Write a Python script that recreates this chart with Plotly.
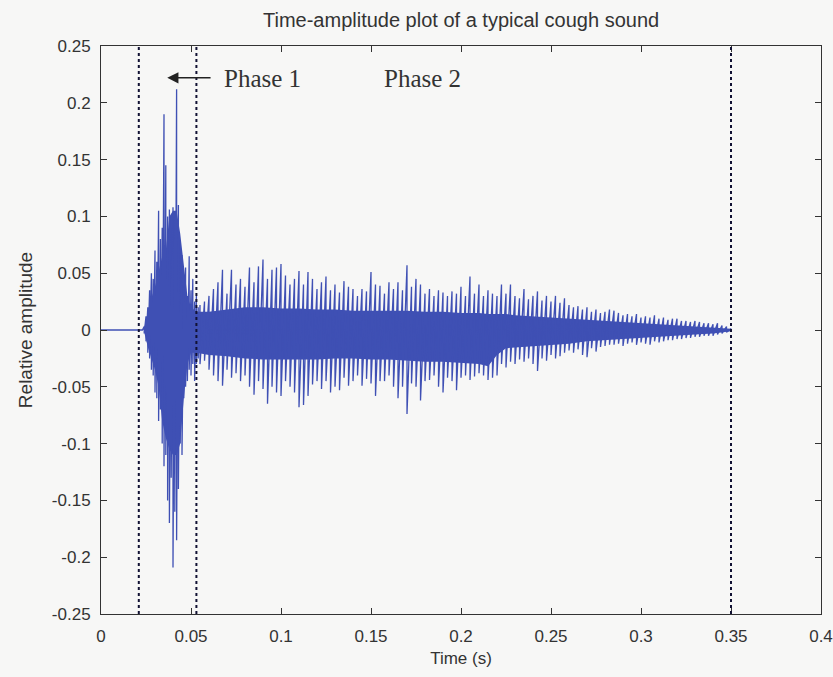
import plotly.graph_objects as go

# ---- data ----
title_text = "Time-amplitude plot of a typical cough sound"
x_title = "Time (s)"
y_title = "Relative amplitude"

x_tickvals = [0, 0.05, 0.1, 0.15, 0.2, 0.25, 0.3, 0.35, 0.4]
x_ticktext = ["0", "0.05", "0.1", "0.15", "0.2", "0.25", "0.3", "0.35", "0.4"]
y_tickvals = [0.25, 0.2, 0.15, 0.1, 0.05, 0, -0.05, -0.1, -0.15, -0.2, -0.25]
y_ticktext = ["0.25", "0.2", "0.15", "0.1", "0.05", "0", "-0.05", "-0.1", "-0.15", "-0.2", "-0.25"]

phase_lines = [0.021, 0.053, 0.35]

# peak envelope (per short time bin): silent lead-in, phase 1 (1 ms bins), phase 2 (2.5 ms bins)
peak_t = [0.0, 0.023,
          0.024, 0.025, 0.026, 0.027, 0.028, 0.029, 0.030, 0.031, 0.032, 0.033,
          0.034, 0.035, 0.036, 0.037, 0.038, 0.039, 0.040, 0.041, 0.042, 0.043,
          0.044, 0.045, 0.046, 0.047, 0.048, 0.049, 0.050, 0.051, 0.052, 0.053, 0.054,
          0.055, 0.0575, 0.06, 0.0625, 0.065, 0.0675, 0.07, 0.0725, 0.075, 0.0775,
          0.08, 0.0825, 0.085, 0.0875, 0.09, 0.0925, 0.095, 0.0975, 0.1, 0.1025,
          0.105, 0.1075, 0.11, 0.1125, 0.115, 0.1175, 0.12, 0.1225, 0.125, 0.1275,
          0.13, 0.1325, 0.135, 0.1375, 0.14, 0.1425, 0.145, 0.1475, 0.15, 0.1525,
          0.155, 0.1575, 0.16, 0.1625, 0.165, 0.1675, 0.17, 0.1725, 0.175, 0.1775,
          0.18, 0.1825, 0.185, 0.1875, 0.19, 0.1925, 0.195, 0.1975, 0.2, 0.2025,
          0.205, 0.2075, 0.21, 0.2125, 0.215, 0.2175, 0.22, 0.2225, 0.225, 0.2275,
          0.23, 0.2325, 0.235, 0.2375, 0.24, 0.2425, 0.245, 0.2475, 0.25, 0.2525,
          0.255, 0.2575, 0.26, 0.2625, 0.265, 0.2675, 0.27, 0.2725, 0.275, 0.2775,
          0.28, 0.2825, 0.285, 0.2875, 0.29, 0.2925, 0.295, 0.2975, 0.3, 0.3025,
          0.305, 0.3075, 0.31, 0.3125, 0.315, 0.3175, 0.32, 0.3225, 0.325, 0.3275,
          0.33, 0.3325, 0.335, 0.3375, 0.34, 0.3425, 0.345, 0.3475, 0.35]
peak_hi = [0.0, 0.0,
           0.003, 0.012, 0.020, 0.035, 0.050, 0.045, 0.070, 0.060, 0.105, 0.080,
           0.090, 0.190, 0.145, 0.100, 0.106, 0.090, 0.108, 0.100, 0.212, 0.110,
           0.070, 0.066, 0.040, 0.055, 0.030, 0.065, 0.035, 0.045, 0.025, 0.030, 0.020,
           0.022, 0.025, 0.030, 0.036, 0.042, 0.053, 0.032, 0.053, 0.040, 0.045,
           0.038, 0.055, 0.042, 0.056, 0.062, 0.045, 0.053, 0.055, 0.058, 0.048,
           0.040, 0.045, 0.052, 0.040, 0.051, 0.045, 0.036, 0.042, 0.047, 0.035,
           0.040, 0.033, 0.043, 0.038, 0.036, 0.030, 0.036, 0.034, 0.051, 0.040,
           0.039, 0.032, 0.042, 0.036, 0.042, 0.035, 0.057, 0.038, 0.045, 0.040,
           0.032, 0.036, 0.030, 0.035, 0.033, 0.030, 0.034, 0.032, 0.038, 0.030,
           0.047, 0.032, 0.040, 0.030, 0.035, 0.032, 0.030, 0.040, 0.032, 0.040,
           0.030, 0.028, 0.036, 0.027, 0.030, 0.034, 0.026, 0.030, 0.025, 0.030,
           0.024, 0.028, 0.022, 0.020, 0.021, 0.018, 0.020, 0.016, 0.018, 0.015,
           0.016, 0.018, 0.017, 0.015, 0.013, 0.014, 0.012, 0.014, 0.011, 0.012,
           0.011, 0.013, 0.010, 0.011, 0.009, 0.010, 0.010, 0.008, 0.008, 0.007,
           0.008, 0.007, 0.006, 0.006, 0.005, 0.006, 0.004, 0.003, 0.001]
peak_lo = [0.0, 0.0,
           -0.003, -0.010, -0.020, -0.025, -0.035, -0.040, -0.055, -0.060, -0.080, -0.070,
           -0.100, -0.120, -0.110, -0.150, -0.170, -0.130, -0.209, -0.160, -0.185, -0.140,
           -0.100, -0.110, -0.060, -0.050, -0.045, -0.035, -0.040, -0.030, -0.045, -0.030, -0.025,
           -0.030, -0.027, -0.035, -0.040, -0.045, -0.049, -0.035, -0.042, -0.038, -0.045,
           -0.040, -0.050, -0.057, -0.045, -0.052, -0.065, -0.050, -0.055, -0.058, -0.045,
           -0.050, -0.055, -0.068, -0.066, -0.058, -0.048, -0.045, -0.052, -0.045, -0.055,
           -0.050, -0.053, -0.042, -0.049, -0.045, -0.040, -0.049, -0.043, -0.047, -0.058,
           -0.045, -0.045, -0.040, -0.050, -0.060, -0.050, -0.074, -0.047, -0.050, -0.062,
           -0.045, -0.044, -0.040, -0.050, -0.055, -0.042, -0.045, -0.053, -0.042, -0.040,
           -0.044, -0.041, -0.038, -0.040, -0.044, -0.042, -0.040, -0.030, -0.033, -0.028,
           -0.030, -0.026, -0.028, -0.025, -0.030, -0.036, -0.025, -0.027, -0.022, -0.025,
           -0.023, -0.020, -0.018, -0.020, -0.017, -0.022, -0.024, -0.016, -0.019, -0.015,
           -0.014, -0.013, -0.013, -0.012, -0.014, -0.012, -0.011, -0.013, -0.011, -0.012,
           -0.013, -0.010, -0.011, -0.010, -0.009, -0.009, -0.008, -0.008, -0.007, -0.007,
           -0.006, -0.006, -0.005, -0.005, -0.005, -0.004, -0.003, -0.002, -0.001]

# dense (solid) core of the waveform
core_t = [0.024, 0.026, 0.028, 0.030, 0.032, 0.034, 0.036, 0.038, 0.040, 0.042,
          0.044, 0.046, 0.048, 0.050, 0.053, 0.06, 0.07, 0.08, 0.09, 0.10,
          0.11, 0.12, 0.13, 0.14, 0.15, 0.16, 0.17, 0.18, 0.19, 0.20,
          0.21, 0.215, 0.22, 0.225, 0.23, 0.24, 0.25, 0.26, 0.27, 0.28,
          0.29, 0.30, 0.31, 0.32, 0.33, 0.34, 0.35]
core_hi = [0.002, 0.015, 0.028, 0.038, 0.052, 0.065, 0.070, 0.100, 0.105, 0.105,
           0.085, 0.055, 0.030, 0.020, 0.016, 0.016, 0.018, 0.020, 0.020, 0.019,
           0.019, 0.018, 0.018, 0.017, 0.017, 0.017, 0.017, 0.016, 0.016, 0.015,
           0.015, 0.014, 0.014, 0.014, 0.013, 0.012, 0.011, 0.010, 0.009, 0.008,
           0.007, 0.006, 0.005, 0.004, 0.003, 0.002, 0.001]
core_lo = [-0.002, -0.015, -0.025, -0.035, -0.050, -0.080, -0.095, -0.105, -0.110, -0.110,
           -0.100, -0.060, -0.030, -0.020, -0.020, -0.022, -0.023, -0.025, -0.026, -0.026,
           -0.026, -0.026, -0.025, -0.025, -0.026, -0.026, -0.027, -0.028, -0.028, -0.029,
           -0.030, -0.032, -0.022, -0.016, -0.015, -0.014, -0.013, -0.012, -0.010, -0.009,
           -0.008, -0.007, -0.006, -0.005, -0.004, -0.003, -0.001]

# ---- build figure ----
wave_color = "#3f50b4"
bg = "#f7f7f6"
axis_font = "Liberation Sans, Arial, sans-serif"

# waveform as alternating peak strokes (hi, lo) per bin
wx, wy = [], []
for t, h, l in zip(peak_t, peak_hi, peak_lo):
    wx += [t, t]
    wy += [h, l]

fig = go.Figure()
fig.add_trace(go.Scatter(
    x=core_t + core_t[::-1], y=core_hi + core_lo[::-1],
    fill="toself", fillcolor=wave_color, mode="lines",
    line=dict(width=0, color=wave_color), hoverinfo="skip", showlegend=False))
fig.add_trace(go.Scatter(
    x=wx, y=wy, mode="lines", line=dict(color=wave_color, width=1.3),
    showlegend=False, name="cough"))

for xv in phase_lines:
    fig.add_shape(type="line", xref="x", yref="y", x0=xv, x1=xv, y0=-0.25, y1=0.25,
                  line=dict(color="#111133", width=2, dash="dot"))

serif = "Liberation Serif, Times New Roman, serif"
fig.add_annotation(x=0.0368, y=0.222, ax=0.0617, ay=0.222, xref="x", yref="y",
                   axref="x", ayref="y", text="", showarrow=True, arrowhead=2,
                   arrowsize=1.4, arrowwidth=1.6, arrowcolor="#222222")
fig.add_annotation(x=0.0672, y=0.221, xref="x", yref="y", text="Phase 1",
                   showarrow=False, xanchor="left", yanchor="middle",
                   font=dict(family=serif, size=25, color="#333333"))
fig.add_annotation(x=0.156, y=0.221, xref="x", yref="y", text="Phase 2",
                   showarrow=False, xanchor="left", yanchor="middle",
                   font=dict(family=serif, size=25, color="#333333"))

fig.update_layout(
    width=833, height=677,
    margin=dict(l=101, r=12, t=46, b=63, autoexpand=False),
    paper_bgcolor=bg, plot_bgcolor=bg,
    title=dict(text=title_text, x=0.5535, xanchor="center", y=0.97, yanchor="middle",
               font=dict(family=axis_font, size=20, color="#333333")),
    font=dict(family=axis_font, size=17, color="#333333"),
    showlegend=False,
)
fig.update_xaxes(range=[0, 0.4], tickvals=x_tickvals, ticktext=x_ticktext,
                 automargin=False,
                 showgrid=False, zeroline=False, showline=True, linecolor="#333333",
                 linewidth=1, mirror="ticks", ticks="inside", ticklen=6,
                 tickcolor="#333333", ticklabelstandoff=7,
                 title=dict(text=x_title, standoff=6, font=dict(size=17)))
fig.update_yaxes(range=[-0.25, 0.25], tickvals=y_tickvals, ticktext=y_ticktext,
                 automargin=False,
                 showgrid=False, zeroline=False, showline=True, linecolor="#333333",
                 linewidth=1, mirror="ticks", ticks="inside", ticklen=6,
                 tickcolor="#333333", ticklabelstandoff=6,
                 title=dict(text=y_title, standoff=14, font=dict(size=19)))

fig.write_html("out.html")
